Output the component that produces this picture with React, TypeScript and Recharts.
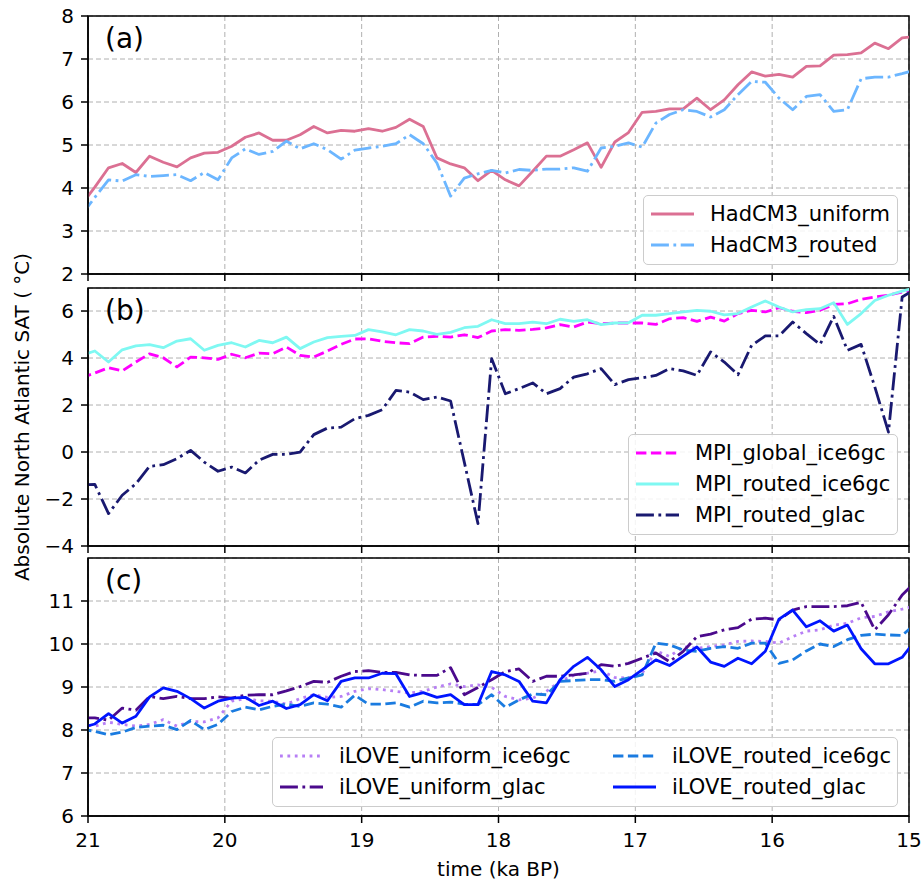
import React from 'react';
import { LineChart, Line, XAxis, YAxis, CartesianGrid, ReferenceArea, Legend, Label } from 'recharts';

const FONT = '"DejaVu Sans", "Liberation Sans", sans-serif';

// time (ka BP); the model output sits between the 0.1 ka marks
const times = [
  21.05, 20.95, 20.85, 20.75, 20.65, 20.55, 20.45, 20.35, 20.25, 20.15,
  20.05, 19.95, 19.85, 19.75, 19.65, 19.55, 19.45, 19.35, 19.25, 19.15,
  19.05, 18.95, 18.85, 18.75, 18.65, 18.55, 18.45, 18.35, 18.25, 18.15,
  18.05, 17.95, 17.85, 17.75, 17.65, 17.55, 17.45, 17.35, 17.25, 17.15,
  17.05, 16.95, 16.85, 16.75, 16.65, 16.55, 16.45, 16.35, 16.25, 16.15,
  16.05, 15.95, 15.85, 15.75, 15.65, 15.55, 15.45, 15.35, 15.25, 15.15,
  15.05, 14.95,
];

// (a) HadCM3
const hadUniform = [
  3.60, 4.02, 4.47, 4.57, 4.36, 4.74, 4.60, 4.49, 4.70, 4.81,
  4.83, 4.97, 5.18, 5.28, 5.11, 5.11, 5.24, 5.43, 5.28, 5.34,
  5.32, 5.38, 5.32, 5.41, 5.60, 5.43, 4.70, 4.56, 4.47, 4.17,
  4.41, 4.19, 4.05, 4.39, 4.74, 4.74, 4.89, 5.05, 4.48, 5.07,
  5.29, 5.76, 5.78, 5.84, 5.84, 6.09, 5.82, 6.05, 6.40, 6.70,
  6.60, 6.64, 6.58, 6.83, 6.84, 7.09, 7.10, 7.14, 7.37, 7.24,
  7.49, 7.53,
];
const hadRouted = [
  3.36, 3.78, 4.19, 4.16, 4.31, 4.27, 4.29, 4.31, 4.17, 4.36,
  4.19, 4.70, 4.91, 4.78, 4.85, 5.09, 4.91, 5.03, 4.89, 4.67,
  4.88, 4.93, 4.97, 5.03, 5.24, 5.03, 4.58, 3.81, 4.23, 4.33,
  4.41, 4.35, 4.43, 4.41, 4.44, 4.44, 4.47, 4.39, 4.93, 4.97,
  5.05, 4.95, 5.51, 5.71, 5.82, 5.78, 5.65, 5.82, 6.17, 6.48,
  6.46, 6.09, 5.82, 6.13, 6.17, 5.78, 5.82, 6.54, 6.58, 6.58,
  6.66, 6.75,
];

// (b) MPI
const mpiGlobalIce = [
  3.16, 3.36, 3.59, 3.45, 3.83, 4.18, 4.01, 3.62, 4.04, 4.01,
  3.94, 4.16, 4.01, 4.21, 4.18, 4.47, 4.11, 4.04, 4.30, 4.58,
  4.81, 4.82, 4.71, 4.65, 4.61, 4.89, 4.92, 4.89, 4.99, 4.87,
  5.15, 5.21, 5.18, 5.22, 5.28, 5.42, 5.32, 5.53, 5.46, 5.49,
  5.49, 5.49, 5.43, 5.67, 5.72, 5.56, 5.74, 5.57, 5.89, 6.03,
  5.96, 6.14, 5.99, 5.93, 6.03, 6.28, 6.31, 6.50, 6.60, 6.67,
  6.81, 6.92,
];
const mpiRoutedIce = [
  4.11, 4.30, 3.83, 4.35, 4.52, 4.57, 4.44, 4.72, 4.82, 4.33,
  4.54, 4.65, 4.47, 4.75, 4.65, 4.89, 4.40, 4.68, 4.87, 4.92,
  4.96, 5.21, 5.11, 4.99, 5.21, 5.15, 5.01, 5.09, 5.29, 5.35,
  5.63, 5.46, 5.46, 5.53, 5.46, 5.65, 5.56, 5.63, 5.42, 5.49,
  5.50, 5.82, 5.82, 5.89, 5.96, 6.03, 5.99, 5.84, 5.89, 6.17,
  6.43, 6.17, 5.96, 6.06, 6.10, 6.35, 5.43, 5.89, 6.45, 6.67,
  6.85, 6.99,
];
const mpiRoutedGlac = [
  -1.40, -1.38, -2.62, -1.84, -1.35, -0.61, -0.54, -0.28, 0.07, -0.43,
  -0.82, -0.64, -0.89, -0.35, -0.10, -0.10, 0.00, 0.74, 1.02, 1.06,
  1.42, 1.56, 1.80, 2.62, 2.55, 2.23, 2.34, 2.17, -0.43, -3.05,
  3.97, 2.48, 2.70, 2.94, 2.48, 2.70, 3.19, 3.33, 3.55, 2.87,
  3.08, 3.16, 3.26, 3.55, 3.45, 3.26, 4.26, 3.83, 3.29, 4.54,
  4.94, 4.94, 5.53, 5.04, 4.58, 5.77, 4.33, 4.58, 2.77, 0.85,
  6.60, 6.95,
];

// (c) iLOVE
const iloveUniformIce = [
  8.13, 8.09, 8.18, 8.13, 8.09, 8.13, 8.24, 8.09, 8.20, 8.19,
  8.28, 8.67, 8.73, 8.68, 8.67, 8.60, 8.73, 8.82, 8.76, 8.78,
  8.90, 8.96, 8.94, 8.90, 8.86, 8.90, 9.00, 9.07, 9.01, 9.05,
  8.99, 8.78, 8.70, 8.74, 8.90, 9.13, 9.27, 9.32, 9.38, 9.22,
  9.21, 9.32, 9.84, 9.71, 9.94, 9.90, 9.94, 9.98, 10.06, 10.07,
  10.06, 10.02, 10.17, 10.30, 10.33, 10.44, 10.48, 10.61, 10.64, 10.75,
  10.81, 10.89,
];
const iloveUniformGlac = [
  8.28, 8.28, 8.23, 8.51, 8.46, 8.78, 8.73, 8.78, 8.73, 8.73,
  8.77, 8.74, 8.81, 8.82, 8.82, 8.91, 9.01, 9.13, 9.11, 9.25,
  9.36, 9.38, 9.34, 9.34, 9.28, 9.27, 9.27, 9.45, 8.82, 8.99,
  9.17, 9.36, 9.42, 9.13, 9.25, 9.25, 9.28, 9.32, 9.52, 9.48,
  9.55, 9.67, 9.79, 9.59, 9.83, 10.17, 10.23, 10.33, 10.38, 10.58,
  10.60, 10.56, 10.79, 10.87, 10.87, 10.87, 10.89, 10.97, 10.33, 10.68,
  11.14, 11.45,
];
const iloveRoutedIce = [
  8.02, 7.97, 7.89, 7.95, 8.06, 8.09, 8.11, 8.01, 8.22, 8.01,
  8.13, 8.43, 8.53, 8.47, 8.55, 8.60, 8.55, 8.63, 8.60, 8.53,
  8.81, 8.60, 8.60, 8.63, 8.53, 8.67, 8.63, 8.65, 8.60, 8.59,
  8.82, 8.53, 8.70, 8.84, 8.82, 9.13, 9.15, 9.17, 9.17, 9.13,
  9.21, 9.28, 10.02, 9.98, 9.86, 9.83, 9.90, 9.94, 9.90, 10.02,
  10.02, 9.55, 9.63, 9.84, 10.00, 9.94, 10.10, 10.20, 10.23, 10.21,
  10.20, 10.48,
];
const iloveRoutedGlac = [
  8.05, 8.14, 8.38, 8.16, 8.32, 8.77, 8.98, 8.90, 8.73, 8.51,
  8.67, 8.74, 8.76, 8.57, 8.67, 8.50, 8.59, 8.82, 8.68, 9.13,
  9.21, 9.21, 9.32, 9.31, 8.78, 8.87, 8.76, 8.82, 8.59, 8.59,
  9.36, 9.28, 9.13, 8.67, 8.63, 9.17, 9.48, 9.69, 9.40, 9.01,
  9.17, 9.40, 9.63, 9.50, 9.72, 9.93, 9.58, 9.48, 9.67, 9.54,
  9.83, 10.58, 10.79, 10.40, 10.54, 10.30, 10.44, 9.89, 9.54, 9.54,
  9.69, 10.10,
];

const xTicks = [21, 20, 19, 18, 17, 16, 15];
const ticksA = [2, 3, 4, 5, 6, 7, 8];
const ticksB = [-4, -2, 0, 2, 4, 6];
const ticksC = [6, 7, 8, 9, 10, 11];

// matplotlib-like dash patterns at lw 2.8
const DASHED = '10.4 4.5';
const DASHDOT = '17.9 4.5 2.8 4.5';
const DOTTED = '2.8 4.6';
const LW = 2.8;

type Series = { key: string; name: string; color: string; dash?: string };

const seriesA: Series[] = [
  { key: 'hadUniform', name: 'HadCM3_uniform', color: '#db7093' },
  { key: 'hadRouted', name: 'HadCM3_routed', color: '#6cb6ff', dash: DASHDOT },
];
const seriesB: Series[] = [
  { key: 'mpiGlobalIce', name: 'MPI_global_ice6gc', color: '#ff00ff', dash: DASHED },
  { key: 'mpiRoutedIce', name: 'MPI_routed_ice6gc', color: '#7ff8f2' },
  { key: 'mpiRoutedGlac', name: 'MPI_routed_glac', color: '#191970', dash: DASHDOT },
];
const seriesC: Series[] = [
  { key: 'iloveUniformIce', name: 'iLOVE_uniform_ice6gc', color: '#b77ff5', dash: DOTTED },
  { key: 'iloveUniformGlac', name: 'iLOVE_uniform_glac', color: '#4b0a8c', dash: DASHDOT },
  { key: 'iloveRoutedIce', name: 'iLOVE_routed_ice6gc', color: '#1a7be0', dash: DASHED },
  { key: 'iloveRoutedGlac', name: 'iLOVE_routed_glac', color: '#0015ff' },
];

const rows = times.map((t, i) => ({
  t,
  hadUniform: hadUniform[i],
  hadRouted: hadRouted[i],
  mpiGlobalIce: mpiGlobalIce[i],
  mpiRoutedIce: mpiRoutedIce[i],
  mpiRoutedGlac: mpiRoutedGlac[i],
  iloveUniformIce: iloveUniformIce[i],
  iloveUniformGlac: iloveUniformGlac[i],
  iloveRoutedIce: iloveRoutedIce[i],
  iloveRoutedGlac: iloveRoutedGlac[i],
}));

const fmtNum = (v: number) => (v < 0 ? '\u2212' + Math.abs(v) : String(v));
const noLabel = () => '';

// legend box drawn in the matplotlib way (rounded light frame)
const LegendBox = ({ items, rowsPerCol, colWidths, width }: { items: Series[]; rowsPerCol: number; colWidths: string; width: number }) => (
  <div
    style={{
      width,
      boxSizing: 'border-box',
      border: '1px solid #cccccc',
      borderRadius: 5,
      background: 'rgba(255,255,255,0.85)',
      padding: '2px 0 4px 7px',
      display: 'grid',
      gridAutoFlow: 'column',
      gridTemplateRows: `repeat(${rowsPerCol}, 31px)`,
      gridTemplateColumns: colWidths,
      fontFamily: FONT,
      fontSize: 21,
      color: '#000',
    }}
  >
    {items.map(s => (
      <div key={s.key} style={{ display: 'flex', alignItems: 'center', whiteSpace: 'nowrap' }}>
        <svg width={43} height={10} style={{ flex: 'none' }}>
          <line x1={0} x2={43} y1={5} y2={5} stroke={s.color} strokeWidth={LW} strokeDasharray={s.dash} />
        </svg>
        <span style={{ marginLeft: 16 }}>{s.name}</span>
      </div>
    ))}
  </div>
);

type PanelProps = {
  top: number;
  xHeight: number;
  domain: [number, number];
  ticks: number[];
  series: Series[];
  tag: string;
  legend: { left: number; top: number; width: number; rowsPerCol: number; colWidths: string };
  bottomLabels?: boolean;
  yTitle?: boolean;
};

const axisStroke = { stroke: '#000', strokeWidth: 1.5 };
const tickStyle = { fill: '#000', fontSize: 20, fontFamily: FONT };

const Panel = ({ top, xHeight, domain, ticks, series, tag, legend, bottomLabels, yTitle }: PanelProps) => (
  <div style={{ position: 'absolute', left: 0, top }}>
    <LineChart width={922} height={4 + 258 + xHeight} data={rows} margin={{ top: 4, right: 13, bottom: 0, left: 0 }}>
      <CartesianGrid stroke="#b0b0b0" strokeDasharray="5 3" strokeWidth={1} />
      <XAxis
        dataKey="t"
        type="number"
        domain={[15, 21]}
        reversed
        allowDataOverflow
        ticks={xTicks}
        interval={0}
        height={xHeight}
        tickSize={7}
        tickMargin={10}
        axisLine={axisStroke}
        tickLine={axisStroke}
        tick={tickStyle}
        tickFormatter={bottomLabels ? undefined : noLabel}
      >
        {bottomLabels && (
          <Label value="time (ka BP)" position="insideBottom" offset={6} fill="#000" fontSize={20} fontFamily={FONT} />
        )}
      </XAxis>
      <YAxis
        type="number"
        domain={domain}
        allowDataOverflow
        ticks={ticks}
        interval={0}
        width={88}
        tickSize={7}
        tickMargin={7}
        axisLine={axisStroke}
        tickLine={axisStroke}
        tick={tickStyle}
        tickFormatter={fmtNum}
      >
        {yTitle && (
          <Label
            value={'Absolute North Atlantic SAT ( \u00B0C)'}
            angle={-90}
            position="insideLeft"
            offset={22}
            fill="#000"
            fontSize={20}
            fontFamily={FONT}
            style={{ textAnchor: 'middle' }}
          />
        )}
      </YAxis>
      <ReferenceArea
        x1={21}
        x2={15}
        y1={domain[0]}
        y2={domain[1]}
        fill="none"
        fillOpacity={0}
        stroke="#000"
        strokeWidth={1.5}
        ifOverflow="visible"
        label={(p: any) => {
          const vb = p && p.viewBox ? p.viewBox : { x: 88, y: 4 };
          return (
            <text x={vb.x + 17} y={vb.y + 32} fontSize={28} fontFamily={FONT} fill="#000">
              {tag}
            </text>
          );
        }}
      />
      {series.map(s => (
        <Line
          key={s.key}
          type="linear"
          dataKey={s.key}
          name={s.name}
          stroke={s.color}
          strokeWidth={LW}
          strokeDasharray={s.dash}
          strokeLinejoin="round"
          dot={false}
          activeDot={false}
          isAnimationActive={false}
        />
      ))}
      <Legend
        layout="vertical"
        align="center"
        verticalAlign="middle"
        wrapperStyle={{ left: legend.left, top: legend.top, width: legend.width }}
        content={() => (
          <LegendBox items={series} rowsPerCol={legend.rowsPerCol} colWidths={legend.colWidths} width={legend.width} />
        )}
      />
    </LineChart>
  </div>
);

export default function App() {
  return (
    <div style={{ position: 'absolute', left: 0, top: 0, width: 922, height: 880, background: '#fff', overflow: 'hidden' }}>
      <style>{'.recharts-surface{overflow:visible}'}</style>
      <Panel
        top={12}
        xHeight={10}
        domain={[2, 8]}
        ticks={ticksA}
        series={seriesA}
        tag="(a)"
        legend={{ left: 643, top: 183, width: 255, rowsPerCol: 2, colWidths: 'auto' }}
      />
      <Panel
        top={284}
        xHeight={10}
        domain={[-4, 6.98]}
        ticks={ticksB}
        series={seriesB}
        tag="(b)"
        legend={{ left: 628, top: 150, width: 270, rowsPerCol: 3, colWidths: 'auto' }}
        yTitle
      />
      <Panel
        top={554}
        xHeight={66}
        domain={[6, 12]}
        ticks={ticksC}
        series={seriesC}
        tag="(c)"
        legend={{ left: 272, top: 183, width: 626, rowsPerCol: 2, colWidths: '333px auto' }}
        bottomLabels
      />
    </div>
  );
}
